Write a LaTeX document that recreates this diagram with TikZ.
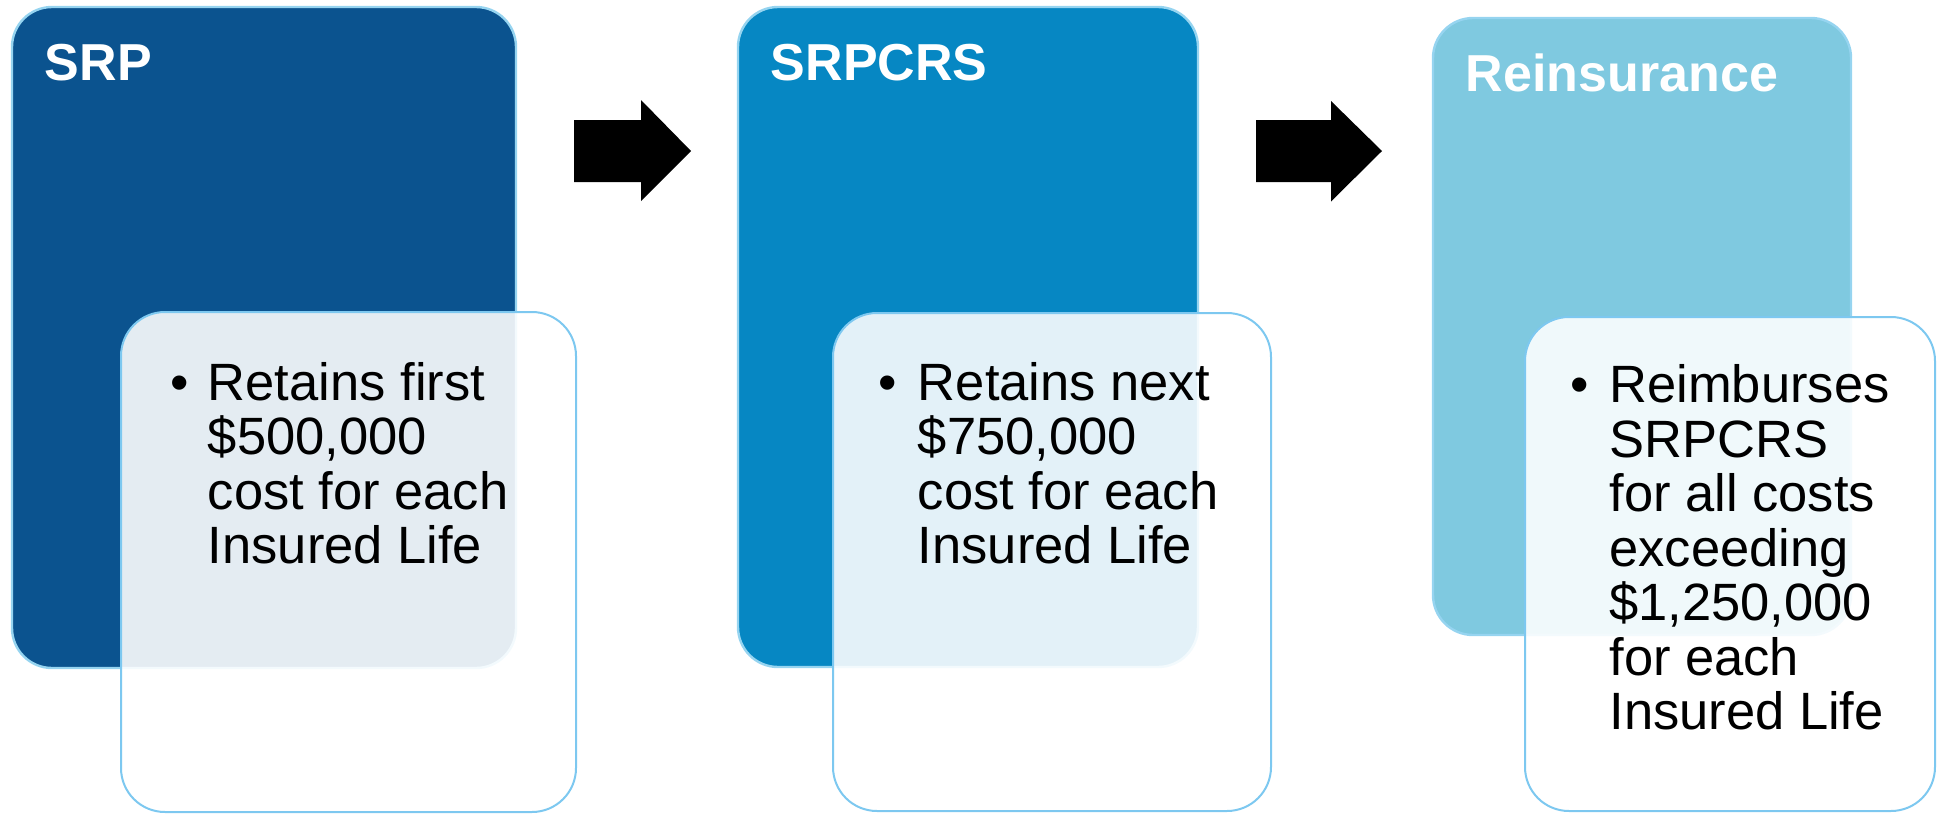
\documentclass[tikz,border=0pt]{standalone}
\usepackage{fontspec}
\setmainfont{Liberation Sans}
\definecolor{cA}{RGB}{11,83,143}
\definecolor{cB}{RGB}{6,135,195}
\definecolor{cC}{RGB}{127,201,224}
\definecolor{edgeU}{RGB}{150,212,240}
\definecolor{edgeL}{RGB}{125,200,240}
\begin{document}
\begin{tikzpicture}[x=0.5pt,y=-0.5pt,
  upbox/.style={draw=edgeU, line width=1.2pt, rounded corners=20pt},
  lowbox/.style={fill=white, fill opacity=0.89, draw=edgeL, line width=1pt, rounded corners=22pt},
  title/.style={anchor=base west, inner sep=0pt, text=white, font=\fontsize{26}{28}\selectfont\bfseries},
  body/.style={anchor=base west, inner sep=0pt, align=left, font=\fontsize{26.25}{27.25}\selectfont},
  bul/.style={anchor=base west, inner sep=0pt, font=\fontsize{26.25}{27.25}\selectfont},
  blockarrow/.style={fill=black}]
\useasboundingbox (0,0) rectangle (1940,814);
% column 1
\draw[upbox, fill=cA] (12,7) rectangle (516,668);
\draw[lowbox] (121,312) rectangle (576,812);
\node[title] (t1) at (44.5,80.5) {SRP};
\node[bul] (b1) at (170,400) {•};
\node[body] (x1) at (207.5,563.5) {Retains first\\\$500,000\\cost for each\\Insured Life};
% arrow 1
\fill[blockarrow] (574,120) -- (641,120) -- (641,100) -- (691,151) -- (641,201) -- (641,182) -- (574,182) -- cycle;
% column 2
\draw[upbox, fill=cB] (738,7) rectangle (1198,667);
\draw[lowbox] (833,313) rectangle (1271,811);
\node[title] (t2) at (770.5,80.5) {SRPCRS};
\node[bul] (b2) at (878.5,400) {•};
\node[body] (x2) at (917.5,563.5) {Retains next\\\$750,000\\cost for each\\Insured Life};
% arrow 2
\fill[blockarrow] (1256,120) -- (1331,120) -- (1331,101) -- (1382,151) -- (1331,201.5) -- (1331,182) -- (1256,182) -- cycle;
% column 3
\draw[upbox, fill=cC] (1433,18) rectangle (1851,635);
\draw[lowbox] (1525,317) rectangle (1935,811);
\node[title] (t3) at (1465.5,91) {Reinsurance};
\node[bul] (b3) at (1570.5,402.5) {•};
\node[body] (x3) at (1609,729.5) {Reimburses\\SRPCRS\\for all costs\\exceeding\\\$1,250,000\\for each\\Insured Life};
\end{tikzpicture}
\end{document}
